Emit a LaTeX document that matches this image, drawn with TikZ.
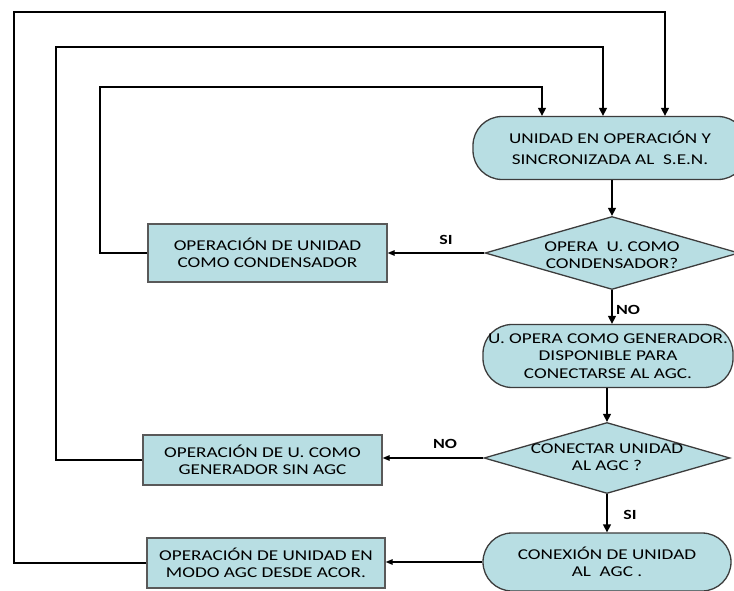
\documentclass[tikz,border=0pt]{standalone}
\usepackage{fontspec}
\setmainfont{Carlito}[FakeStretch=1.28]
\usetikzlibrary{arrows.meta,shapes.geometric,calc}
\definecolor{fillc}{HTML}{B8DEE3}
\definecolor{edgec}{HTML}{3C3C3C}
\begin{document}
\begin{tikzpicture}[x=1pt,y=-1pt,
  base/.style={draw=edgec,line width=1.3pt,fill=fillc,align=center,font=\fontsize{15}{17.5}\selectfont,inner sep=0pt},
  term/.style={base,rectangle,rounded corners=29pt},
  box/.style={base,rectangle,draw=edgec!85},
  txt/.style={align=center,font=\fontsize{15}{17.5}\selectfont},
  arr/.style={line width=1.3pt,-{Triangle[length=8pt,width=8pt]}},
  arrs/.style={line width=1.2pt,-{Triangle[length=7pt,width=5.5pt]}},
  lbl/.style={font=\bfseries\fontsize{14}{16}\selectfont},
  conn/.style={line width=1.2pt}]
\useasboundingbox (0,0) rectangle (734,591);
\begin{scope}
\clip (0,0) rectangle (734,591);
\node[term,minimum width=274pt,minimum height=63pt] (top) at (610,148) {UNIDAD EN OPERACIÓN Y\\[3pt]SINCRONIZADA AL\ \ S.E.N.};
\node[base,shape=diamond,minimum width=254pt,minimum height=73pt,inner sep=0pt] (d1) at (612,253) {};
\node[txt] (t1) at (612,255) {OPERA\ \ U. COMO\\CONDENSADOR?};
\node[term,minimum width=250pt,minimum height=63pt] (n2) at (608,356) {U. OPERA COMO GENERADOR.\\DISPONIBLE PARA\\CONECTARSE AL AGC.};
\node[base,shape=diamond,minimum width=246pt,minimum height=71pt] (d2) at (607,458) {};
\node[txt] (t2) at (607,457) {CONECTAR UNIDAD\\AL AGC ?};
\node[term,minimum width=248pt,minimum height=58pt] (n3) at (607,562) {CONEXIÓN DE UNIDAD\\AL\ \ AGC .};
\end{scope}
\node[box,minimum width=239pt,minimum height=58pt] (b1) at (267.5,253) {OPERACIÓN DE UNIDAD\\COMO CONDENSADOR};
\node[box,minimum width=239pt,minimum height=50pt] (b2) at (262.5,460) {OPERACIÓN DE U. COMO\\GENERADOR SIN AGC};
\node[box,minimum width=238pt,minimum height=50pt] (b3) at (266,563) {OPERACIÓN DE UNIDAD EN\\MODO AGC DESDE ACOR.};
\coordinate (c1) at (100,87);
\coordinate (c2) at (56,47);
\coordinate (c3) at (14,12);
% feedback loops
\draw[arr] (b1.west) -| (c1) -| ([xshift=-68pt]top.north);
\draw[arr] (b2.west) -| (c2) -| ([xshift=-7pt]top.north);
\draw[arr] (b3.west) -| (c3) -| ([xshift=55pt]top.north);
% main flow
\draw[arr] (top.south -| d1.north) -- (d1.north);
\draw[arrs] (d1.west) -- (d1.west -| b1.east);
\node[lbl] (s1) at (446,240) {SI};
\draw[arr] (d1.south) -- (d1.south |- n2.north);
\node[lbl] (no1) at (628,310) {NO};
\draw[arr] (n2.south -| d2.north) -- (d2.north);
\draw[arrs] (d2.west) -- (d2.west -| b2.east);
\node[lbl] (no2) at (445,444) {NO};
\draw[arr] (d2.south) -- (d2.south |- n3.north);
\node[lbl] (s2) at (630,515) {SI};
\draw[arrs] (n3.west) -- (n3.west -| b3.east);
\end{tikzpicture}
\end{document}
